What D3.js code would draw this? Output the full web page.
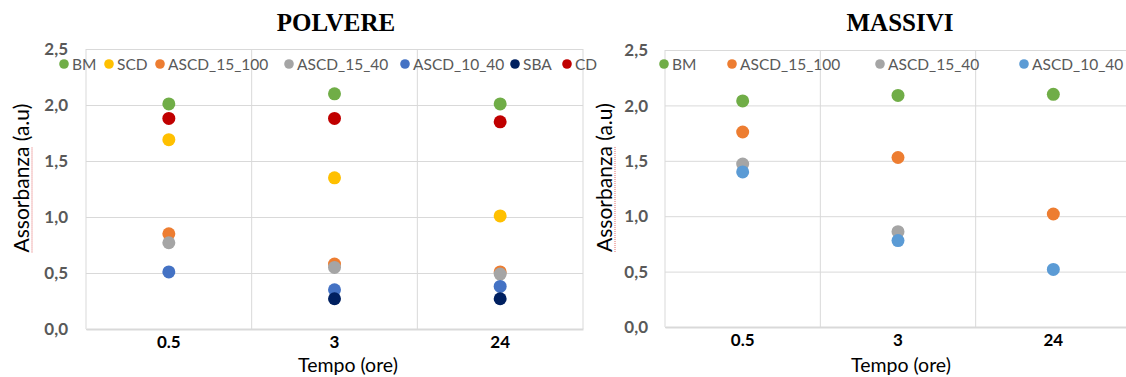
<!DOCTYPE html>
<html>
<head>
<meta charset="utf-8">
<script src="https://cdn.jsdelivr.net/npm/d3@7"></script>
<style>
  html, body { margin: 0; padding: 0; background: #fff; }
  svg { display: block; }
</style>
</head>
<body>
<svg id="chart" width="1126" height="377"></svg>
<script>
// Sampling times (hours) and absorbance axis ticks
const categories = ["0.5", "3", "24"];
const yTicks = [0, 0.5, 1.0, 1.5, 2.0, 2.5];

// POLVERE (powders)
const polvereNames = ["BM", "SCD", "ASCD_15_100", "ASCD_15_40", "ASCD_10_40", "SBA", "CD"];
const polvereBM          = [2.01, 2.10, 2.01];
const polvereSCD         = [1.69, 1.35, 1.01];
const polvereASCD_15_100 = [0.85, 0.58, 0.51];
const polvereASCD_15_40  = [0.77, 0.55, 0.49];
const polvereASCD_10_40  = [0.51, 0.35, 0.38];
const polvereSBA         = [null, 0.27, 0.27];
const polvereCD          = [1.88, 1.88, 1.85];

// MASSIVI (monoliths)
const massiviNames = ["BM", "ASCD_15_100", "ASCD_15_40", "ASCD_10_40"];
const massiviBM          = [2.04, 2.09, 2.10];
const massiviASCD_15_100 = [1.76, 1.53, 1.02];
const massiviASCD_15_40  = [1.47, 0.86, null];
const massiviASCD_10_40  = [1.40, 0.78, 0.52];

const colors = {
  BM: "#70AD47", SCD: "#FFC000", ASCD_15_100: "#ED7D31", ASCD_15_40: "#A5A5A5",
  ASCD_10_40: "#4472C4", SBA: "#002060", CD: "#C00000"
};
const massiviColors = Object.assign({}, colors, { ASCD_10_40: "#5B9BD5" });

const panels = [
  {
    title: "POLVERE",
    names: polvereNames,
    values: [polvereBM, polvereSCD, polvereASCD_15_100, polvereASCD_15_40, polvereASCD_10_40, polvereSBA, polvereCD],
    colors: colors,
    box: { left: 86, right: 583, top: 49, bottom: 329 },
    titleX: 336, yTitleX: 22, tickRight: 68, xTitleX: 348,
    legendX: [64, 109, 160, 289, 405, 515, 567]
  },
  {
    title: "MASSIVI",
    names: massiviNames,
    values: [massiviBM, massiviASCD_15_100, massiviASCD_15_40, massiviASCD_10_40],
    colors: massiviColors,
    box: { left: 665, right: 1131, top: 50, bottom: 327 },
    titleX: 900, yTitleX: 605, tickRight: 648, xTitleX: 901,
    legendX: [664, 732, 880, 1024]
  }
];

const svg = d3.select("#chart");
const FONT = "Lato, 'Open Sans', sans-serif";

panels.forEach(p => {
  const g = svg.append("g");
  const x = d3.scaleBand().domain(categories).range([p.box.left, p.box.right]);
  const y = d3.scaleLinear().domain([0, 2.5]).range([p.box.bottom, p.box.top]);

  // horizontal gridlines
  g.append("g")
    .attr("transform", `translate(${p.box.left},0)`)
    .call(d3.axisLeft(y).tickValues(yTicks).tickSize(-(p.box.right - p.box.left)).tickFormat(""))
    .call(a => a.select(".domain").remove())
    .call(a => a.selectAll("line").attr("stroke", "#D9D9D9").attr("stroke-width", 1));

  // vertical gridlines at category boundaries
  const bounds = categories.map(c => x(c)).concat([p.box.right]);
  g.append("g").selectAll("line").data(bounds).join("line")
    .attr("x1", d => d).attr("x2", d => d)
    .attr("y1", p.box.top).attr("y2", p.box.bottom)
    .attr("stroke", "#D9D9D9").attr("stroke-width", 1);

  // bottom axis line + category labels
  g.append("g")
    .attr("transform", `translate(0,${p.box.bottom})`)
    .call(d3.axisBottom(x).tickSize(0).tickPadding(7))
    .call(a => a.select(".domain").attr("stroke", "#D9D9D9").attr("stroke-width", 2))
    .call(a => a.selectAll("text")
      .attr("font-family", FONT).attr("font-weight", "bold")
      .attr("font-size", 17).attr("fill", "#000"));

  // y tick labels
  g.append("g").selectAll("text").data(yTicks).join("text")
    .attr("x", p.tickRight).attr("y", d => y(d))
    .attr("dy", "0.36em").attr("text-anchor", "end")
    .attr("font-family", FONT).attr("font-weight", "bold")
    .attr("font-size", 17).attr("fill", "#595959")
    .text(d => d3.format(".1f")(d).replace(".", ","));

  // chart title
  g.append("text")
    .attr("x", p.titleX).attr("y", 31)
    .attr("text-anchor", "middle")
    .attr("font-family", "'Liberation Serif', 'Times New Roman', serif")
    .attr("font-weight", "bold").attr("font-size", 25).attr("fill", "#000")
    .text(p.title);

  // x axis title
  g.append("text")
    .attr("x", p.xTitleX).attr("y", 372)
    .attr("text-anchor", "middle")
    .attr("font-family", FONT).attr("font-size", 19.5).attr("fill", "#000")
    .text("Tempo (ore)");

  // y axis title with spell-check underline under the first word
  const yt = g.append("g").attr("transform", `translate(${p.yTitleX},${(p.box.top + p.box.bottom) / 2 - 11}) rotate(-90)`);
  const ytext = yt.append("text")
    .attr("text-anchor", "middle").attr("dy", "0.35em")
    .attr("font-family", FONT).attr("font-size", 21).attr("fill", "#000")
    .text("Assorbanza (a.u)");
  const full = ytext.node().getComputedTextLength();
  const word = ytext.node().getSubStringLength(0, 10);
  yt.append("line")
    .attr("x1", -full / 2).attr("x2", -full / 2 + word)
    .attr("y1", 10).attr("y2", 10)
    .attr("stroke", "#E06666").attr("stroke-width", 1).attr("stroke-dasharray", "1,1");

  // data points
  p.names.forEach((name, i) => {
    const pts = categories.map((c, j) => ({ c, v: p.values[i][j] })).filter(d => d.v != null);
    g.append("g").selectAll("circle").data(pts).join("circle")
      .attr("cx", d => x(d.c) + x.bandwidth() / 2)
      .attr("cy", d => y(d.v))
      .attr("r", 6.5)
      .attr("fill", p.colors[name]);
  });

  // legend
  const lg = g.append("g");
  p.names.forEach((name, i) => {
    const lx = p.legendX[i];
    lg.append("circle").attr("cx", lx).attr("cy", 64).attr("r", 4.8).attr("fill", p.colors[name]);
    lg.append("text").attr("x", lx + 8).attr("y", 64).attr("dy", "0.36em")
      .attr("font-family", FONT).attr("font-size", 15.5).attr("fill", "#595959")
      .text(name);
  });
});
</script>
</body>
</html>
